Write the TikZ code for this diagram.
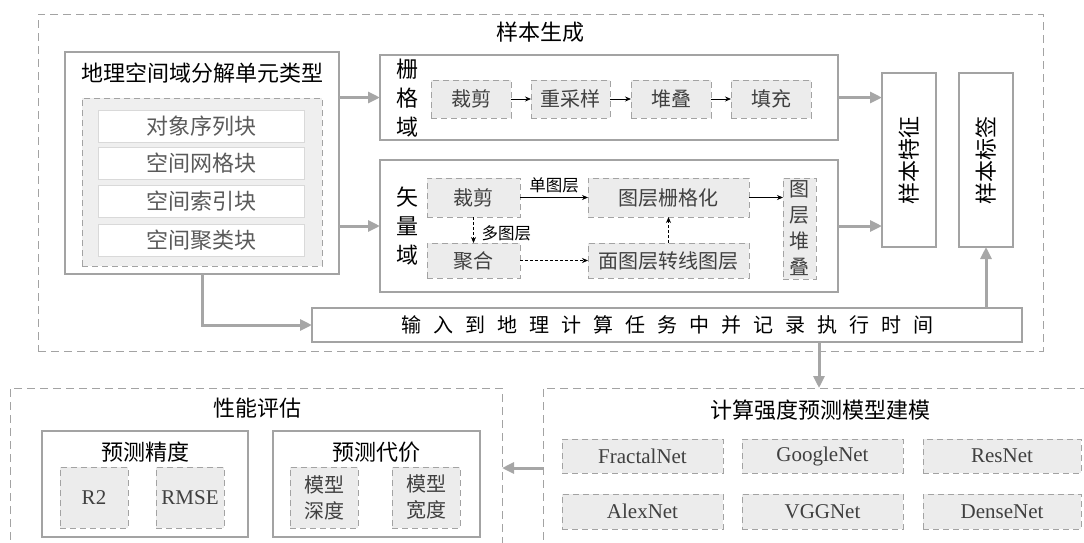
\documentclass[tikz,border=0pt]{standalone}
\usepackage{fontspec}
\setmainfont{Noto Sans CJK SC}
\newfontfamily\lat{Liberation Serif}
\usetikzlibrary{arrows.meta}
\definecolor{bgray}{HTML}{A3A3A3}
\definecolor{lgray}{HTML}{ECECEC}
\definecolor{igray}{HTML}{EFEFEF}
\definecolor{wgray}{HTML}{D9D9D9}
\definecolor{agray}{HTML}{A6A6A6}
\definecolor{tdark}{HTML}{404040}
\definecolor{tmid}{HTML}{5A5A5A}
\newcommand\myls{\hspace{12pt}}
\tikzset{
  every node/.style={inner sep=0pt, outer sep=0pt, anchor=center},
  outerbox/.style={draw=bgray, dash pattern=on 8pt off 5pt, line width=1pt},
  solidbox/.style={draw=bgray, line width=1.2pt, fill=white},
  dbox/.style={draw=bgray, dash pattern=on 6pt off 4pt, line width=1pt, fill=lgray, text=tdark, font=\fontsize{20}{26}\selectfont},
  latbox/.style={dbox, font=\lat\fontsize{21}{24}\selectfont},
  itembox/.style={draw=wgray, line width=1pt, fill=white, text=tmid, font=\fontsize{22}{26}\selectfont},
  titletext/.style={text=black, font=\fontsize{22}{26}\selectfont},
  vtext/.style={text=black, align=center, font=\fontsize{22}{29}\selectfont},
  smalllabel/.style={text=black, font=\fontsize{16.5}{19}\selectfont},
  bigarrow/.style={draw=agray, line width=3pt, -{Triangle[length=12pt,width=11pt]}},
  smallarrow/.style={draw=black, line width=0.8pt, -{Stealth[length=6pt,width=5pt]}},
  dsmallarrow/.style={smallarrow, dash pattern=on 3pt off 2pt}
}
\begin{document}
\begin{tikzpicture}[x=1pt,y=-1pt]
\useasboundingbox (0,0) rectangle (1084,542);
\clip (0,0) rectangle (1084,542);

% ---------- sample generation ----------
\node[outerbox, minimum width=1005pt, minimum height=337pt] (outer1) at (540.5,182.5) {};
\node[titletext] (t1) at (540,32) {样本生成};

\node[solidbox, minimum width=274pt, minimum height=222pt] (geo) at (202,163) {};
\node[titletext] (geot) at (202,73) {地理空间域分解单元类型};
\node[draw=bgray, dash pattern=on 6pt off 4pt, line width=1pt, fill=igray, minimum width=240pt, minimum height=168pt] (geoin) at (202,182) {};
\node[itembox, minimum width=206pt, minimum height=32pt] (g1) at (201,126) {对象序列块};
\node[itembox, minimum width=206pt, minimum height=32pt] (g2) at (201,163.5) {空间网格块};
\node[itembox, minimum width=206pt, minimum height=32pt] (g3) at (201,201.5) {空间索引块};
\node[itembox, minimum width=206pt, minimum height=32pt] (g4) at (201,240) {空间聚类块};

\node[solidbox, minimum width=458pt, minimum height=85pt] (raster) at (609,97.5) {};
\node[vtext] (rl) at (407,98) {栅\\格\\域};
\node[dbox, minimum width=80pt, minimum height=38pt] (r1) at (471,99) {裁剪};
\node[dbox, minimum width=79pt, minimum height=38pt] (r2) at (570.5,99) {重采样};
\node[dbox, minimum width=80pt, minimum height=38pt] (r3) at (671,99) {堆叠};
\node[dbox, minimum width=80pt, minimum height=38pt] (r4) at (771,99) {填充};

\node[solidbox, minimum width=458pt, minimum height=132pt] (vector) at (609,226) {};
\node[vtext] (vl) at (407,226) {矢\\量\\域};
\node[dbox, minimum width=93pt, minimum height=39pt] (vcut) at (473.5,197.5) {裁剪};
\node[dbox, minimum width=161pt, minimum height=39pt] (vras) at (668.5,197.5) {图层栅格化};
\node[dbox, minimum width=93pt, minimum height=35pt] (vagg) at (473.5,260.5) {聚合};
\node[dbox, minimum width=161pt, minimum height=35pt] (vconv) at (668.5,260.5) {面图层转线图层};
\node[dbox, align=center, minimum width=33pt, minimum height=101pt] (vstack) at (799.5,228.5) {图\\层\\堆\\叠};

\node[solidbox, minimum width=54pt, minimum height=174pt] (feat) at (909,160) {};
\node[titletext, rotate=90] (featt) at (909,160) {样本特征};
\node[solidbox, minimum width=54pt, minimum height=174pt] (label) at (986,160) {};
\node[titletext, rotate=90] (labelt) at (986,160) {样本标签};

\node[solidbox, minimum width=710pt, minimum height=34pt, text=black, font=\fontsize{20}{24}\selectfont] (input) at (667,325)
  {输\myls 入\myls 到\myls 地\myls 理\myls 计\myls 算\myls 任\myls 务\myls 中\myls 并\myls 记\myls 录\myls 执\myls 行\myls 时\myls 间};

% inner arrows
\draw[smallarrow] (r1) -- (r2);
\draw[smallarrow] (r2) -- (r3);
\draw[smallarrow] (r3) -- (r4);
\draw[smallarrow] (vcut) -- node[smalllabel, above, yshift=5pt] (l1) {单图层} (vras);
\draw[smallarrow] (vras.east) -- (vras.east -| vstack.west);
\draw[dsmallarrow] (vcut) -- node[smalllabel, right, xshift=8pt, yshift=-3pt] (l2) {多图层} (vagg);
\draw[dsmallarrow] (vagg) -- (vconv);
\draw[dsmallarrow] (vconv) -- (vras);

% big arrows
\draw[bigarrow] (geo.east |- raster.west) -- (raster.west);
\draw[bigarrow] (geo.east |- vector.west) -- (vector.west);
\draw[bigarrow] (raster.east) -- (raster.east -| feat.west);
\draw[bigarrow] (vector.east) -- (vector.east -| feat.west);
\draw[bigarrow] (geo.south) |- (input.west);
\draw[bigarrow] (input.north -| label.south) -- (label.south);

% ---------- performance evaluation ----------
\node[outerbox, minimum width=492pt, minimum height=172pt] (perf) at (256,474) {};
\node[titletext] (perft) at (257,408) {性能评估};
\node[solidbox, minimum width=206pt, minimum height=106pt] (acc) at (145,484) {};
\node[titletext] (acct) at (145,452) {预测精度};
\node[latbox, minimum width=68pt, minimum height=61pt] (r2b) at (94,497.5) {R2};
\node[latbox, minimum width=68pt, minimum height=61pt] (rmse) at (190,497.5) {RMSE};
\node[solidbox, minimum width=207pt, minimum height=106pt] (cost) at (376.5,484) {};
\node[titletext] (costt) at (376,452) {预测代价};
\node[dbox, align=center, minimum width=68pt, minimum height=61pt] (depth) at (324,497.5) {模型\\深度};
\node[dbox, align=center, minimum width=68pt, minimum height=61pt] (wid) at (426,497.5) {模型\\宽度};

% ---------- model building ----------
\node[outerbox, minimum width=557pt, minimum height=172pt] (calc) at (821.5,474) {};
\node[titletext] (calct) at (820,410) {计算强度预测模型建模};
\node[latbox, minimum width=161pt, minimum height=34pt] (n1) at (642.5,456) {FractalNet};
\node[latbox, minimum width=161pt, minimum height=34pt] (n2) at (822.5,456) {GoogleNet};
\node[latbox, minimum width=158pt, minimum height=34pt] (n3) at (1002,456) {ResNet};
\node[latbox, minimum width=161pt, minimum height=35pt] (n4) at (642.5,511.5) {AlexNet};
\node[latbox, minimum width=161pt, minimum height=35pt] (n5) at (822.5,511.5) {VGGNet};
\node[latbox, minimum width=158pt, minimum height=35pt] (n6) at (1002,511.5) {DenseNet};

\coordinate (ax) at (819,0);
\coordinate (ay) at (0,468);
\draw[bigarrow] (input.south -| ax) -- (calc.north -| ax);
\draw[bigarrow] (calc.west |- ay) -- (perf.east |- ay);
\end{tikzpicture}
\end{document}
